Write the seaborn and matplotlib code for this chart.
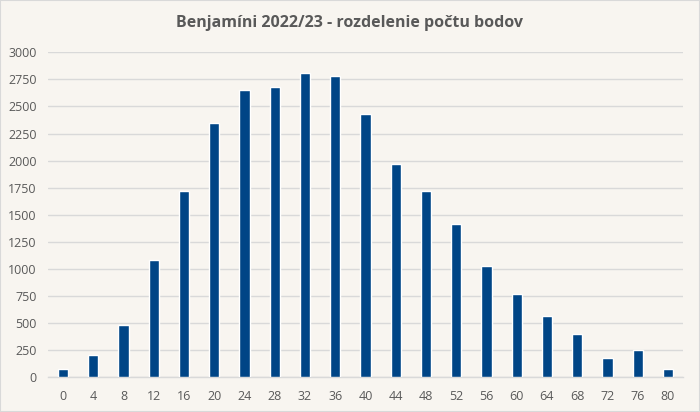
import matplotlib
matplotlib.use("Agg")
import matplotlib.pyplot as plt
import seaborn as sns
import pandas as pd

# body points and number of students
points = [0, 4, 8, 12, 16, 20, 24, 28, 32, 36, 40, 44, 48, 52, 56, 60, 64, 68, 72, 76, 80]
counts = [77, 206, 486, 1083, 1717, 2345, 2652, 2677, 2806, 2781, 2428, 1969, 1717,
          1412, 1030, 772, 563, 400, 175, 255, 77]
yticks = [0, 250, 500, 750, 1000, 1250, 1500, 1750, 2000, 2250, 2500, 2750, 3000]
title = "Benjamíni 2022/23 - rozdelenie počtu bodov"

bg = "#F8F5F0"
grid = "#D9D9D9"
text = "#595959"

sns.set_theme(style="white")
plt.rcParams["font.family"] = ["Open Sans", "DejaVu Sans"]

df = pd.DataFrame({"body": [str(p) for p in points], "pocet": counts})

fig = plt.figure(figsize=(7, 4.12), dpi=100, facecolor=bg)
ax = fig.add_axes([48 / 700, (412 - 377.3) / 412, 635 / 700, 325 / 412])
ax.set_facecolor(bg)

sns.barplot(data=df, x="body", y="pocet", color="#004586", saturation=1,
            width=0.34, ax=ax, zorder=3)

ax.set_ylim(0, 3000)
ax.set_xlim(-0.5, len(points) - 0.5)
ax.set_yticks(yticks)
ax.set_yticklabels([str(v) for v in yticks])
ax.yaxis.grid(True, color=grid, linewidth=1)
ax.set_axisbelow(True)
for s in ["top", "right", "left"]:
    ax.spines[s].set_visible(False)
ax.spines["bottom"].set_color(grid)
ax.spines["bottom"].set_linewidth(1)
ax.tick_params(axis="both", length=0, labelsize=9, labelcolor=text)
ax.tick_params(axis="x", pad=9)
ax.tick_params(axis="y", pad=8)
ax.set_xlabel("")
ax.set_ylabel("")

fig.text(0.5, 1 - 23 / 412, title, ha="center", va="center",
         fontsize=11.5, fontweight="bold", color=text)

# thin outer border like the original chart frame
fig.patches.append(plt.Rectangle((0, 0), 1, 1, transform=fig.transFigure,
                                 fill=False, edgecolor="#D9D9D9", linewidth=1.5))

fig.savefig("out.png", dpi=100, facecolor=bg)
